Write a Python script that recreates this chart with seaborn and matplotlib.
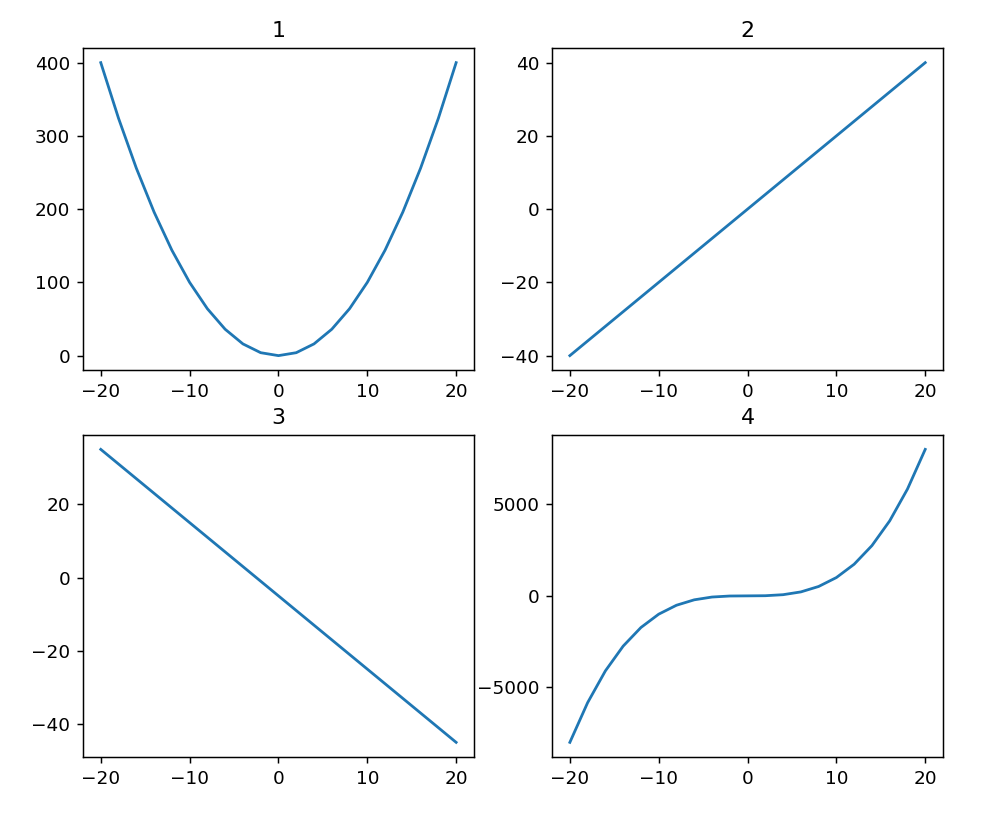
import matplotlib
matplotlib.use("Agg")
import matplotlib.pyplot as plt
from matplotlib.ticker import MultipleLocator
import seaborn as sns

x = [-20, -18, -16, -14, -12, -10, -8, -6, -4, -2, 0, 2, 4, 6, 8, 10, 12, 14, 16, 18, 20]
y_square = [400, 324, 256, 196, 144, 100, 64, 36, 16, 4, 0, 4, 16, 36, 64, 100, 144, 196, 256, 324, 400]
y_linear = [-40, -36, -32, -28, -24, -20, -16, -12, -8, -4, 0, 4, 8, 12, 16, 20, 24, 28, 32, 36, 40]
y_falling = [35, 31, 27, 23, 19, 15, 11, 7, 3, -1, -5, -9, -13, -17, -21, -25, -29, -33, -37, -41, -45]
y_cube = [-8000, -5832, -4096, -2744, -1728, -1000, -512, -216, -64, -8, 0, 8, 64, 216, 512, 1000, 1728, 2744, 4096, 5832, 8000]
titles = ["1", "2", "3", "4"]
cube_tick_step = 5000

DPI = 133
fig, axes = plt.subplots(2, 2, figsize=(983 / DPI, 819 / DPI), dpi=DPI)
fig.subplots_adjust(left=83/983, right=943/983, top=1-48/819, bottom=1-757/819,
                    wspace=0.2, hspace=0.2)

for ax, y, t in zip(axes.flat, [y_square, y_linear, y_falling, y_cube], titles):
    sns.lineplot(x=x, y=y, ax=ax, color="#1f77b4", linewidth=1.5)
    ax.set_title(t)

axes[1, 1].yaxis.set_major_locator(MultipleLocator(cube_tick_step))

fig.savefig("out.png", dpi=DPI)
